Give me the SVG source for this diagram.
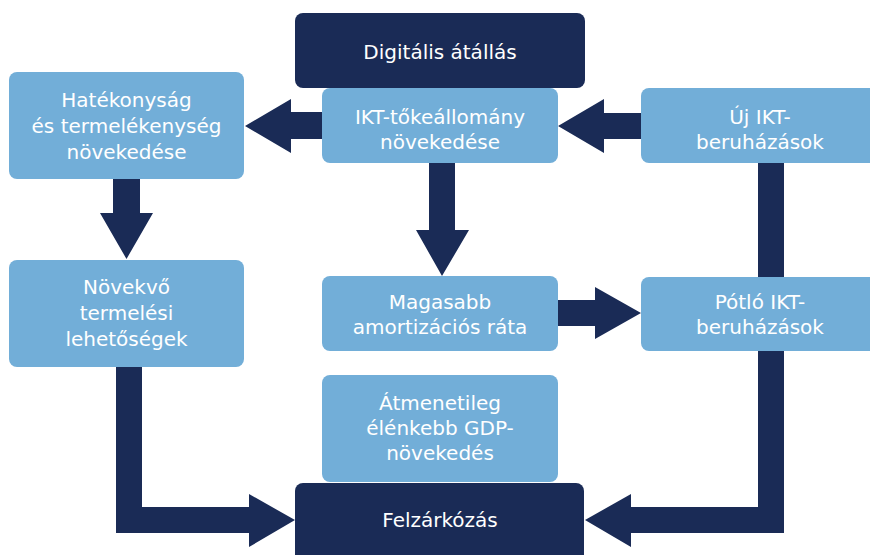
<svg xmlns="http://www.w3.org/2000/svg" width="870" height="555" viewBox="0 0 870 555">
<style>
.dark{fill:#1a2b56}
.light{fill:#72aed8}
.arr{fill:#1a2b56}
text{font-family:"DejaVu Sans",Verdana,sans-serif;font-size:20px;fill:#ffffff;text-anchor:middle}
</style>
<rect width="870" height="555" fill="#ffffff"/>
<g id="connectors">
<polygon class="arr" points="322,112 291,112 291,99 245,126 291,153 291,139 322,139"/>
<polygon class="arr" points="641,113 604,113 604,99 558,126 604,153 604,139 641,139"/>
<polygon class="arr" points="113,179 140,179 140,213 153,213 126.5,259 100,213 113,213"/>
<polygon class="arr" points="429,163 455,163 455,230 469,230 442,276 416,230 429,230"/>
<polygon class="arr" points="557,300 595,300 595,287 641,313 595,339 595,326 557,326"/>
<polygon class="arr" points="116,366 142,366 142,507 249,507 249,494 295,520 249,547 249,533 116,533"/>
<rect class="arr" x="758" y="162" width="26" height="116"/>
<polygon class="arr" points="758,350 784,350 784,533 631,533 631,547 585,520 631,494 631,507 758,507"/>
</g>
<g id="digitalis">
<rect class="dark" x="295" y="13" width="290" height="75" rx="8"/>
<text x="440" y="59">Digitális átállás</text>
</g>
<g id="ikt">
<rect class="light" x="322" y="88" width="236" height="75" rx="8"/>
<text x="440" y="124">IKT-tőkeállomány</text>
<text x="440" y="149">növekedése</text>
</g>
<g id="hatekonysag">
<rect class="light" x="9" y="72" width="235" height="107" rx="8"/>
<text x="126.5" y="107">Hatékonyság</text>
<text x="126.5" y="133">és termelékenység</text>
<text x="126.5" y="159">növekedése</text>
</g>
<g id="uj">
<rect class="light" x="641" y="88" width="240" height="75" rx="8"/>
<text x="760" y="124">Új IKT-</text>
<text x="760" y="149">beruházások</text>
</g>
<g id="novekvo">
<rect class="light" x="9" y="260" width="235" height="107" rx="8"/>
<text x="126.5" y="294">Növekvő</text>
<text x="126.5" y="320">termelési</text>
<text x="126.5" y="346">lehetőségek</text>
</g>
<g id="magasabb">
<rect class="light" x="322" y="276" width="236" height="75" rx="8"/>
<text x="440" y="309">Magasabb</text>
<text x="440" y="334">amortizációs ráta</text>
</g>
<g id="potlo">
<rect class="light" x="641" y="277" width="240" height="74" rx="8"/>
<text x="760" y="309">Pótló IKT-</text>
<text x="760" y="334">beruházások</text>
</g>
<g id="atmenetileg">
<rect class="light" x="322" y="375" width="236" height="107" rx="8"/>
<text x="440" y="410">Átmenetileg</text>
<text x="440" y="435">élénkebb GDP-</text>
<text x="440" y="460">növekedés</text>
</g>
<g id="felzarkozas">
<rect class="dark" x="295" y="483" width="289" height="90" rx="8"/>
<text x="440" y="527">Felzárkózás</text>
</g>
</svg>
